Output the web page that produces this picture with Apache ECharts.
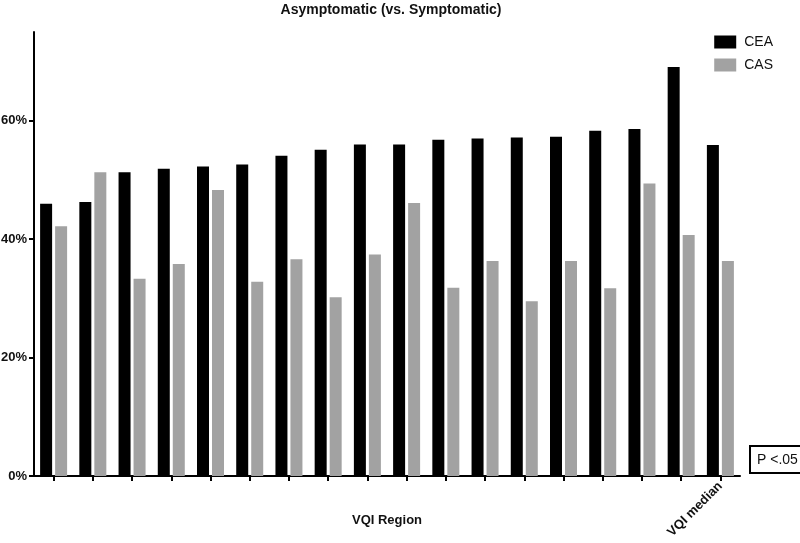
<!DOCTYPE html>
<html>
<head>
<meta charset="utf-8">
<script src="https://cdn.jsdelivr.net/npm/echarts@6/dist/echarts.min.js"></script>
<style>html,body{margin:0;padding:0;background:#fff}#c{width:800px;height:543px}</style>
</head>
<body>
<div id="c"></div>
<script>
const categories = ["R1","R2","R3","R4","R5","R6","R7","R8","R9","R10","R11","R12","R13","R14","R15","R16","R17","VQI median"];
const ceaValues = [46.0, 46.3, 51.3, 51.9, 52.3, 52.6, 54.1, 55.1, 56.0, 56.0, 56.8, 57.0, 57.2, 57.3, 58.3, 58.6, 69.1, 55.9];
const casValues = [42.2, 51.3, 33.3, 35.8, 48.3, 32.8, 36.6, 30.2, 37.4, 46.1, 31.8, 36.3, 29.5, 36.3, 31.7, 49.4, 40.7, 36.3];
const yTicks = [0, 20, 40, 60];

const chart = echarts.init(document.getElementById('c'), null, {renderer: 'canvas'});
const font = 'Liberation Sans, Arial, sans-serif';
chart.setOption({
  animation: false,
  backgroundColor: '#fff',
  title: {
    text: 'Asymptomatic (vs. Symptomatic)',
    left: 386, top: -2, textAlign: 'center',
    textStyle: {fontFamily: font, fontSize: 14, fontWeight: 'bold', color: '#111'}
  },
  legend: {
    orient: 'vertical', right: 22, top: 30,
    itemWidth: 22, itemHeight: 13, itemGap: 9,
    icon: 'rect',
    textStyle: {fontFamily: font, fontSize: 14, color: '#111', padding: [0,0,0,3]},
    data: ['CEA', 'CAS']
  },
  grid: {left: 34, right: 60, top: 32, bottom: 67, containLabel: false, outerBoundsMode: 'none'},
  xAxis: {
    type: 'category',
    data: categories,
    name: 'VQI Region',
    nameLocation: 'middle',
    nameGap: 38,
    nameMoveOverlap: false,
    nameTextStyle: {fontFamily: font, fontSize: 13, fontWeight: 'bold', color: '#111'},
    axisLine: {lineStyle: {color: '#000', width: 2}},
    axisTick: {show: true, interval: 0, alignWithLabel: true, length: 5, lineStyle: {color: '#000', width: 2}},
    axisLabel: {
      interval: 0, rotate: 45, margin: 8,
      fontFamily: font, fontSize: 13, fontWeight: 'bold', color: '#111',
      formatter: v => v === 'VQI median' ? v : ''
    }
  },
  yAxis: {
    type: 'value', min: 0, max: 75, interval: 20,
    splitLine: {show: false},
    axisLine: {show: true, lineStyle: {color: '#000', width: 2}},
    axisTick: {show: true, length: 5, lineStyle: {color: '#000', width: 2}, customValues: yTicks},
    axisLabel: {
      margin: 7, fontFamily: font, fontSize: 13, fontWeight: 'bold', color: '#111',
      customValues: yTicks,
      formatter: v => v + '%'
    }
  },
  series: [
    {name: 'CEA', type: 'bar', data: ceaValues, barWidth: 12, barGap: '25%',
     itemStyle: {color: '#000'}},
    {name: 'CAS', type: 'bar', data: casValues, barWidth: 12,
     itemStyle: {color: '#a2a2a2'}}
  ],
  graphic: [{
    type: 'text', left: 749, top: 445,
    style: {
      text: 'P <.05', fontFamily: font, fontSize: 14, fill: '#111',
      backgroundColor: '#fff', borderColor: '#000', borderWidth: 2,
      padding: [6, 6, 5, 6]
    }
  }]
});
</script>
</body>
</html>
